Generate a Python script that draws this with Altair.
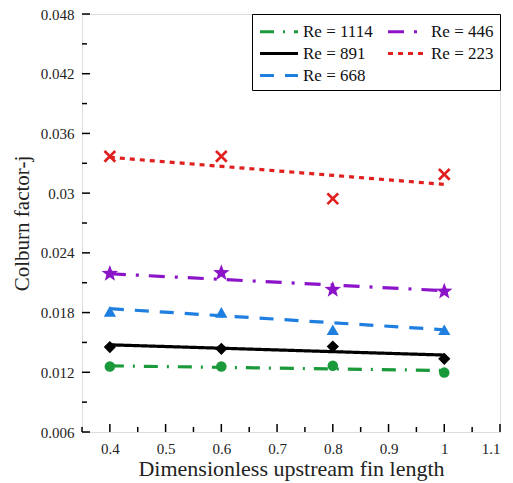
import altair as alt
import pandas as pd

# ---- data ----
x_vals = [0.4, 0.6, 0.8, 1.0]
series = ["Re = 1114", "Re = 891", "Re = 668", "Re = 446", "Re = 223"]
j_1114 = [0.01258, 0.01258, 0.01265, 0.01197]
j_891 = [0.01453, 0.01436, 0.01459, 0.01335]
j_668 = [0.01812, 0.01802, 0.01627, 0.01627]
j_446 = [0.02191, 0.02198, 0.02030, 0.02013]
j_223 = [0.03370, 0.03370, 0.02944, 0.03189]

fit_x = [0.4, 1.0]
fit_1114 = [0.01265, 0.01218]
fit_891 = [0.01476, 0.01373]
fit_668 = [0.01839, 0.01627]
fit_446 = [0.02190, 0.02020]
fit_223 = [0.03360, 0.03088]

legend_order = ["Re = 1114", "Re = 891", "Re = 668", "Re = 446", "Re = 223"]

x_major = [0.4, 0.5, 0.6, 0.7, 0.8, 0.9, 1.0, 1.1]
x_minor = [0.35, 0.45, 0.55, 0.65, 0.75, 0.85, 0.95, 1.05]
y_major = [0.006, 0.012, 0.018, 0.024, 0.03, 0.036, 0.042, 0.048]
y_minor = [0.009, 0.015, 0.021, 0.027, 0.033, 0.039, 0.045]

# ---- styles ----
colors = {"Re = 1114": "#1a9a3a", "Re = 891": "#000000", "Re = 668": "#1e7fe0",
          "Re = 446": "#8b14c8", "Re = 223": "#e0201f"}
dashes = {"Re = 1114": [14, 9, 2, 9], "Re = 891": [1, 0], "Re = 668": [14, 11],
          "Re = 446": [16, 10, 3, 10], "Re = 223": [5, 5]}
X_PATH = "M0,-0.3L0.7,-1L1,-0.7L0.3,0L1,0.7L0.7,1L0,0.3L-0.7,1L-1,0.7L-0.3,0L-1,-0.7L-0.7,-1Z"
STAR_PATH = ("M0,-1L0.247,-0.34L0.951,-0.309L0.4,0.13L0.588,0.809L0,0.42"
             "L-0.588,0.809L-0.4,0.13L-0.951,-0.309L-0.247,-0.34Z")
shapes = {"Re = 1114": "circle", "Re = 891": "diamond", "Re = 668": "triangle-up",
          "Re = 446": STAR_PATH, "Re = 223": X_PATH}
sizes = {"Re = 1114": 110, "Re = 891": 150, "Re = 668": 150, "Re = 446": 300, "Re = 223": 160}

pts_vals = [j_1114, j_891, j_668, j_446, j_223]
fit_vals = [fit_1114, fit_891, fit_668, fit_446, fit_223]

pts_rows, fit_rows = [], []
for s, vals, fv in zip(series, pts_vals, fit_vals):
    for x, v in zip(x_vals, vals):
        pts_rows.append({"x": x, "j": v, "series": s, "col": colors[s],
                         "shp": shapes[s], "sz": sizes[s]})
    for x, v in zip(fit_x, fv):
        fit_rows.append({"x": x, "j": v, "series": s})
pts = pd.DataFrame(pts_rows)
fits = pd.DataFrame(fit_rows)

FONT = "Liberation Serif"
H = 418
xscale = alt.Scale(domain=[0.35, 1.1], nice=False, zero=False)
yscale = alt.Scale(domain=[0.006, 0.048], nice=False, zero=False)

xaxis = alt.Axis(title="Dimensionless upstream fin length", values=x_major,
                 labelExpr="format(datum.value, '.1~f')", tickSize=0, labelPadding=9,
                 grid=False, domain=False, titleFontSize=22, labelFontSize=15,
                 titleFont=FONT, labelFont=FONT, titleFontWeight="normal",
                 labelColor="#222222", titleColor="#222222", titlePadding=2)
yaxis = alt.Axis(title="Colburn factor-j", values=y_major,
                 labelExpr="format(datum.value, '.3~f')", tickSize=0, labelPadding=8,
                 grid=False, domain=False, titleFontSize=21, labelFontSize=15,
                 titleFont=FONT, labelFont=FONT, titleFontWeight="normal",
                 labelColor="#222222", titleColor="#222222", titlePadding=8)

LEG_SYMBOL = "M-1,0L3,0"
lines = alt.Chart(fits).mark_line(strokeWidth=3.2).encode(
    x=alt.X("x:Q", scale=xscale, axis=xaxis),
    y=alt.Y("j:Q", scale=yscale, axis=yaxis),
    color=alt.Color("series:N", sort=legend_order,
                    scale=alt.Scale(domain=legend_order, range=[colors[s] for s in legend_order]),
                    legend=alt.Legend(title=None, orient="top-right", columns=2,
                                      symbolType=LEG_SYMBOL, symbolSize=361,
                                      symbolStrokeWidth=3.2, labelFont=FONT,
                                      labelFontSize=17, labelColor="#111111",
                                      strokeColor="black", fillColor="white",
                                      padding=6, offset=0, rowPadding=2,
                                      columnPadding=8, labelLimit=200, labelOffset=22)),
    strokeDash=alt.StrokeDash("series:N", sort=legend_order,
                              scale=alt.Scale(domain=legend_order,
                                              range=[dashes[s] for s in legend_order])),
    detail="series:N",
)

points = alt.Chart(pts).mark_point(filled=True, opacity=1).encode(
    x="x:Q",
    y="j:Q",
    color=alt.Color("col:N", scale=None),
    shape=alt.Shape("shp:N", scale=None),
    size=alt.Size("sz:Q", scale=None),
)

xmaj = pd.DataFrame({"v": x_major})
xmin = pd.DataFrame({"v": x_minor})
ymaj = pd.DataFrame({"v": y_major})
ymin = pd.DataFrame({"v": y_minor})

def xt(df, ln):
    return alt.Chart(df).mark_rule(color="black", strokeWidth=1.5).encode(
        x="v:Q", y=alt.value(H), y2=alt.value(H - ln))

def yt(df, ln):
    return alt.Chart(df).mark_rule(color="black", strokeWidth=1.5).encode(
        y="v:Q", x=alt.value(0), x2=alt.value(ln))

chart = alt.layer(lines, points, xt(xmaj, 8), xt(xmin, 5), yt(ymaj, 8), yt(ymin, 5)).properties(
    width=418, height=H,
    autosize=alt.AutoSizeParams(type="none"),
    padding={"left": 74, "top": 6, "right": 5, "bottom": 55},
).configure_view(stroke="black", strokeWidth=2).configure(background="white", font=FONT)

chart.save("out.html", embed_options={"renderer": "svg", "actions": False})
